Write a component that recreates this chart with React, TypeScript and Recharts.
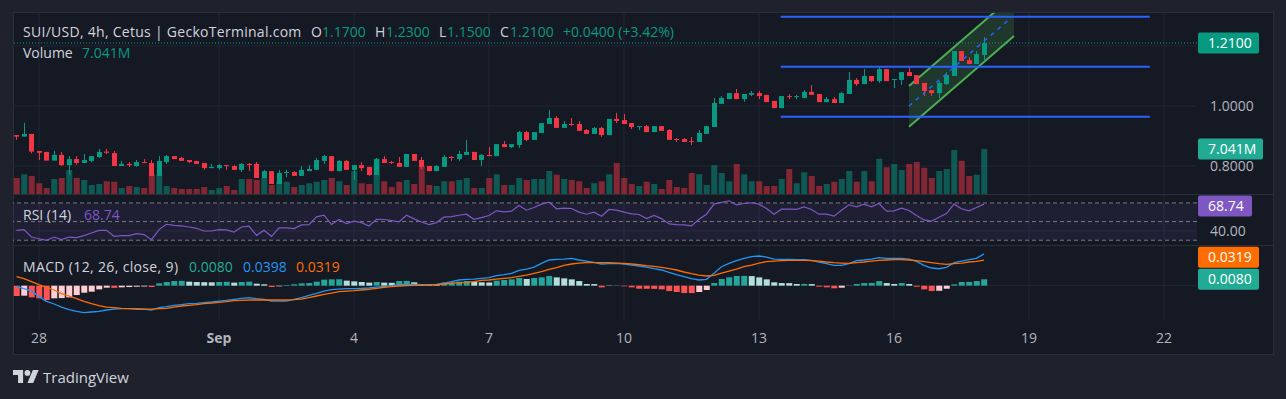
import React from "react";
import {
  Area,
  Bar,
  CartesianGrid,
  Cell,
  ComposedChart,
  Line,
  ReferenceArea,
  ReferenceLine,
  XAxis,
  YAxis,
} from "recharts";

// SUI/USD 4h — candle index 0 = Aug 28 00:00, 6 candles per day
const FIRST = -3;

const OPEN = [
  0.903, 0.898, 0.907, 0.85, 0.847, 0.818, 0.837, 0.803, 0.823, 0.81,
  0.817, 0.83, 0.848, 0.843, 0.8, 0.807, 0.8, 0.813, 0.81, 0.767,
  0.813, 0.833, 0.827, 0.82, 0.817, 0.81, 0.793, 0.793, 0.803, 0.8,
  0.787, 0.807, 0.807, 0.76, 0.783, 0.74, 0.777, 0.78, 0.767, 0.783,
  0.787, 0.817, 0.833, 0.783, 0.817, 0.787, 0.803, 0.797, 0.77, 0.823,
  0.813, 0.81, 0.797, 0.84, 0.82, 0.8, 0.783, 0.797, 0.83, 0.823,
  0.837, 0.847, 0.82, 0.837, 0.833, 0.873, 0.863, 0.87, 0.913, 0.887,
  0.91, 0.94, 0.96, 0.927, 0.94, 0.94, 0.92, 0.907, 0.927, 0.903,
  0.957, 0.953, 0.943, 0.93, 0.933, 0.913, 0.933, 0.92, 0.89, 0.89,
  0.883, 0.88, 0.907, 0.93, 1.007, 1.023, 1.043, 1.023, 1.037, 1.043,
  1.037, 1.017, 0.993, 1.033, 1.03, 1.027, 1.047, 1.04, 1.013, 1.023,
  1.01, 1.04, 1.087, 1.073, 1.1, 1.083, 1.123, 1.087, 1.087, 1.113,
  1.103, 1.077, 1.053, 1.043, 1.073, 1.1, 1.183, 1.153, 1.14, 1.17,
];
const HIGH = [
  0.903, 0.944, 0.907, 0.85, 0.847, 0.85, 0.847, 0.833, 0.833, 0.84,
  0.833, 0.857, 0.857, 0.85, 0.817, 0.813, 0.82, 0.823, 0.82, 0.833,
  0.837, 0.833, 0.83, 0.82, 0.817, 0.81, 0.807, 0.807, 0.803, 0.803,
  0.81, 0.81, 0.813, 0.787, 0.783, 0.787, 0.787, 0.783, 0.8, 0.803,
  0.827, 0.837, 0.833, 0.82, 0.82, 0.803, 0.813, 0.797, 0.827, 0.833,
  0.817, 0.83, 0.84, 0.84, 0.83, 0.8, 0.803, 0.837, 0.833, 0.85,
  0.887, 0.847, 0.84, 0.863, 0.873, 0.883, 0.873, 0.917, 0.917, 0.913,
  0.943, 0.987, 0.967, 0.95, 0.96, 0.95, 0.923, 0.93, 0.93, 0.957,
  0.977, 0.973, 0.943, 0.933, 0.937, 0.933, 0.933, 0.923, 0.893, 0.893,
  0.897, 0.92, 0.933, 1.027, 1.033, 1.043, 1.057, 1.04, 1.05, 1.05,
  1.037, 1.017, 1.033, 1.04, 1.037, 1.053, 1.07, 1.04, 1.03, 1.03,
  1.047, 1.113, 1.093, 1.123, 1.1, 1.133, 1.123, 1.09, 1.113, 1.133,
  1.103, 1.077, 1.053, 1.083, 1.113, 1.183, 1.183, 1.163, 1.183, 1.23,
];
const LOW = [
  0.887, 0.898, 0.842, 0.82, 0.818, 0.818, 0.8, 0.771, 0.804, 0.81,
  0.813, 0.827, 0.84, 0.8, 0.8, 0.797, 0.797, 0.81, 0.767, 0.767,
  0.807, 0.823, 0.817, 0.81, 0.807, 0.787, 0.793, 0.787, 0.787, 0.787,
  0.78, 0.783, 0.76, 0.76, 0.74, 0.74, 0.763, 0.767, 0.767, 0.783,
  0.787, 0.807, 0.783, 0.783, 0.787, 0.753, 0.783, 0.767, 0.77, 0.81,
  0.807, 0.797, 0.797, 0.817, 0.79, 0.783, 0.783, 0.797, 0.817, 0.817,
  0.837, 0.82, 0.8, 0.833, 0.833, 0.863, 0.86, 0.86, 0.883, 0.887,
  0.91, 0.94, 0.927, 0.927, 0.933, 0.917, 0.907, 0.907, 0.897, 0.903,
  0.943, 0.94, 0.923, 0.92, 0.913, 0.913, 0.917, 0.887, 0.88, 0.88,
  0.87, 0.88, 0.907, 0.93, 1.007, 1.023, 1.023, 1.014, 1.033, 1.023,
  1.013, 0.993, 0.993, 1.023, 1.023, 1.027, 1.037, 1.013, 1.013, 1.01,
  1.01, 1.04, 1.067, 1.073, 1.08, 1.077, 1.083, 1.06, 1.07, 1.1,
  1.073, 1.033, 1.033, 1.027, 1.07, 1.1, 1.15, 1.14, 1.14, 1.15,
];
const CLOSE = [
  0.898, 0.907, 0.848, 0.844, 0.818, 0.837, 0.803, 0.823, 0.81, 0.82,
  0.833, 0.847, 0.844, 0.8, 0.807, 0.803, 0.813, 0.81, 0.767, 0.817,
  0.833, 0.823, 0.817, 0.813, 0.807, 0.793, 0.797, 0.803, 0.8, 0.787,
  0.807, 0.803, 0.76, 0.783, 0.74, 0.777, 0.78, 0.767, 0.787, 0.79,
  0.82, 0.833, 0.783, 0.817, 0.787, 0.803, 0.793, 0.77, 0.823, 0.81,
  0.81, 0.797, 0.84, 0.817, 0.797, 0.783, 0.8, 0.83, 0.827, 0.84,
  0.847, 0.82, 0.837, 0.833, 0.873, 0.863, 0.873, 0.913, 0.887, 0.913,
  0.943, 0.96, 0.927, 0.94, 0.937, 0.917, 0.907, 0.927, 0.903, 0.957,
  0.95, 0.94, 0.93, 0.933, 0.913, 0.933, 0.917, 0.887, 0.887, 0.88,
  0.88, 0.91, 0.933, 1.01, 1.027, 1.043, 1.023, 1.04, 1.043, 1.033,
  1.013, 0.993, 1.033, 1.03, 1.033, 1.047, 1.037, 1.013, 1.023, 1.01,
  1.043, 1.087, 1.073, 1.1, 1.083, 1.123, 1.083, 1.09, 1.113, 1.1,
  1.073, 1.05, 1.043, 1.077, 1.103, 1.183, 1.15, 1.14, 1.173, 1.21,
];
// volume in millions
const VOLUME = [
  2.5, 3.1, 2.8, 1.7, 0.94, 2.35, 2.5, 3.76, 2.5, 2.2,
  1.4, 1.56, 2.0, 1.9, 0.94, 1.25, 1.1, 0.94, 3.1, 3.1,
  1.25, 0.94, 0.78, 0.78, 0.78, 1.1, 0.63, 0.94, 1.25, 0.63,
  2.35, 2.35, 2.2, 2.5, 1.4, 1.9, 1.9, 1.1, 1.4, 1.7,
  1.9, 2.2, 2.5, 2.0, 1.4, 3.6, 1.7, 1.56, 5.5, 2.0,
  1.1, 1.9, 2.2, 1.56, 4.4, 1.4, 1.25, 2.0, 2.0, 2.2,
  2.5, 0.94, 0.94, 2.5, 3.1, 1.4, 1.4, 2.5, 2.2, 2.35,
  2.35, 3.6, 3.0, 2.35, 2.2, 2.0, 0.94, 1.7, 2.0, 3.1,
  4.85, 2.5, 1.56, 1.25, 1.9, 1.56, 0.78, 2.2, 1.1, 0.94,
  3.3, 3.1, 1.4, 4.5, 3.3, 2.0, 4.7, 3.1, 2.0, 2.0,
  1.25, 1.25, 2.35, 3.9, 1.7, 3.4, 2.8, 1.25, 1.56, 1.9,
  2.35, 3.6, 1.9, 3.6, 2.0, 5.5, 4.2, 4.7, 3.75, 4.7,
  5.0, 4.1, 2.5, 3.6, 3.9, 6.9, 5.2, 2.8, 3.0, 7.041,
];
const RSI = [
  40.6, 41.4, 33.4, 31.6, 29.8, 33.4, 30.6, 33.4, 32.7, 34.9,
  37.8, 40.6, 40.6, 34.2, 34.9, 34.9, 37.0, 36.0, 30.6, 41.4,
  47.1, 46.0, 45.3, 44.2, 42.8, 39.9, 39.9, 41.4, 41.0, 38.8,
  44.2, 45.0, 35.2, 40.6, 34.2, 43.2, 43.2, 42.4, 46.4, 46.8,
  55.0, 56.8, 46.8, 52.2, 47.8, 50.4, 48.9, 45.3, 52.5, 52.2,
  51.1, 49.6, 56.8, 52.9, 49.6, 46.8, 48.9, 54.7, 55.4, 56.8,
  57.9, 52.5, 54.3, 56.5, 61.5, 60.4, 61.2, 67.3, 62.2, 65.1,
  68.7, 70.9, 63.7, 64.4, 64.0, 60.1, 57.9, 60.1, 55.8, 63.0,
  62.2, 60.1, 58.3, 57.6, 53.2, 56.5, 53.2, 47.5, 46.8, 46.4,
  45.3, 52.5, 57.9, 68.7, 70.5, 72.3, 68.0, 69.4, 70.2, 68.7,
  64.0, 57.9, 63.3, 63.3, 63.0, 65.8, 63.0, 57.9, 57.9, 55.8,
  62.2, 68.0, 65.8, 68.7, 65.8, 69.4, 61.2, 61.5, 64.4, 61.9,
  56.5, 51.8, 50.4, 54.7, 58.6, 68.7, 63.7, 61.5, 65.1, 68.74,
];
const MACD = [
  -0.0012, -0.0037, -0.0067, -0.0137, -0.0196, -0.0229, -0.0267, -0.03, -0.0321, -0.0337,
  -0.0329, -0.0321, -0.0304, -0.0292, -0.0287, -0.0287, -0.0296, -0.0292, -0.0305, -0.0275,
  -0.0262, -0.0246, -0.0237, -0.0225, -0.0221, -0.0212, -0.0204, -0.0192, -0.0183, -0.0171,
  -0.0158, -0.015, -0.0162, -0.0171, -0.0192, -0.0192, -0.0192, -0.0171, -0.015, -0.0121,
  -0.0096, -0.0067, -0.005, -0.0042, -0.0037, -0.0037, -0.0033, -0.0029, -0.0017, -0.0008,
  0.0, 0.0012, 0.0017, 0.0017, 0.0012, 0.0012, 0.0017, 0.0033, 0.005, 0.0071,
  0.0079, 0.0083, 0.0092, 0.01, 0.0125, 0.0137, 0.0154, 0.0192, 0.0208, 0.0233,
  0.0279, 0.0321, 0.0329, 0.0333, 0.0342, 0.0321, 0.0308, 0.0292, 0.0271, 0.0275,
  0.0279, 0.0271, 0.0258, 0.0246, 0.0233, 0.0212, 0.0196, 0.0167, 0.0137, 0.0112,
  0.0087, 0.0071, 0.0079, 0.0154, 0.0237, 0.0279, 0.0312, 0.0342, 0.0362, 0.0371,
  0.0358, 0.0333, 0.0329, 0.0329, 0.0325, 0.0325, 0.0317, 0.0296, 0.0275, 0.0254,
  0.0254, 0.0275, 0.0312, 0.0321, 0.0333, 0.035, 0.0342, 0.0342, 0.0342, 0.0333,
  0.0304, 0.0254, 0.0221, 0.0212, 0.0229, 0.0287, 0.0308, 0.0325, 0.0342, 0.0398,
];
const SIGNAL = [
  0.0112, 0.0087, 0.005, 0.0013, -0.0021, -0.0054, -0.01, -0.0129, -0.0162, -0.0196,
  -0.0225, -0.025, -0.0267, -0.0275, -0.0283, -0.0287, -0.0287, -0.0292, -0.0292, -0.0287,
  -0.0283, -0.0267, -0.0254, -0.0246, -0.0237, -0.0225, -0.0217, -0.0208, -0.02, -0.0187,
  -0.0183, -0.0179, -0.0179, -0.0179, -0.0179, -0.0179, -0.0179, -0.0175, -0.0167, -0.015,
  -0.0129, -0.0108, -0.0092, -0.0075, -0.0067, -0.0062, -0.0054, -0.0046, -0.0033, -0.0021,
  -0.0013, -0.0004, 0.0, 0.0004, 0.0008, 0.0008, 0.0012, 0.0021, 0.0029, 0.0037,
  0.0042, 0.005, 0.0067, 0.0071, 0.0083, 0.0092, 0.01, 0.0117, 0.0133, 0.0154,
  0.0175, 0.0204, 0.0225, 0.0254, 0.0271, 0.0283, 0.0287, 0.0287, 0.0287, 0.0287,
  0.0283, 0.0279, 0.0271, 0.0262, 0.025, 0.0242, 0.0229, 0.0212, 0.0196, 0.0171,
  0.015, 0.0133, 0.0121, 0.0129, 0.0158, 0.0183, 0.0208, 0.0237, 0.0258, 0.0283,
  0.03, 0.0308, 0.0312, 0.0317, 0.0317, 0.0317, 0.0312, 0.0308, 0.0296, 0.0287,
  0.0283, 0.0279, 0.0287, 0.0296, 0.0308, 0.0317, 0.0321, 0.0325, 0.0325, 0.0321,
  0.0312, 0.03, 0.0287, 0.0275, 0.0267, 0.0275, 0.0283, 0.0296, 0.0304, 0.0319,
];
const HIST = [
  -0.0129, -0.0125, -0.0146, -0.0158, -0.0179, -0.0158, -0.0155, -0.0146, -0.0117, -0.0088,
  -0.0075, -0.0046, -0.0025, -0.0027, -0.0021, -0.0017, -0.0013, -0.001, -0.0017, 0.0029,
  0.0046, 0.0058, 0.006, 0.005, 0.0046, 0.0044, 0.0042, 0.0046, 0.0048, 0.0038,
  0.0046, 0.005, 0.0025, 0.0017, -0.0017, -0.0008, 0.0008, 0.0017, 0.0029, 0.0033,
  0.005, 0.0075, 0.0079, 0.008, 0.0063, 0.0054, 0.0046, 0.0038, 0.0046, 0.0038,
  0.0036, 0.0058, 0.006, 0.0042, 0.0021, 0.0017, 0.0016, 0.0038, 0.0042, 0.005,
  0.0058, 0.005, 0.0042, 0.004, 0.0063, 0.0071, 0.0079, 0.0096, 0.0083, 0.0096,
  0.0104, 0.0121, 0.0104, 0.0092, 0.0079, 0.0058, 0.0021, 0.002, -0.0021, -0.0004,
  0.0004, -0.0008, -0.0021, -0.0038, -0.0039, -0.004, -0.0046, -0.0067, -0.0079, -0.0092,
  -0.0093, -0.0079, -0.0054, 0.0033, 0.0083, 0.0104, 0.0121, 0.0122, 0.012, 0.0104,
  0.0079, 0.0042, 0.0033, 0.0032, 0.0021, 0.0022, 0.002, -0.0013, -0.0021, -0.0033,
  -0.0025, -0.0002, 0.0021, 0.0033, 0.0034, 0.0058, 0.0033, 0.0021, 0.0033, 0.0021,
  -0.0013, -0.0046, -0.0066, -0.0064, -0.0038, 0.0017, 0.0046, 0.0047, 0.0058, 0.008,
];

// time axis: candle index of each day label
const DAY_TICKS = [0, 24, 42, 60, 78, 96, 114, 132, 150];
const DAY_LABELS = ["28", "Sep", "4", "7", "10", "13", "16", "19", "22"];

// drawings
const LEVELS = [1.2977, 1.131, 0.9643];
const LEVEL_FROM = 98.9;
const LEVEL_TO = 148.1;
const CHANNEL = [
  { i: 116, low: 0.931, high: 1.0667 },
  { i: 130, low: 1.2333, high: 1.369 },
];
const CHANNEL_MID = [
  { i: 116, p: 1.0 },
  { i: 129.2, p: 1.285 },
];

const PRICE_TICKS = [0.8, 1.0];
const PRICE_GRID = [0.8, 1.0, 1.2];
const RSI_LEVELS = [70, 50, 30];

const X_DOMAIN = [-3.4667, 154.4];
const PRICE_DOMAIN = [0.70667, 1.31];
const VOL_MAX = 28.32;
const RSI_DOMAIN = [23.8, 78.5];
const MACD_DOMAIN = [-0.0429, 0.0496];

const UP = "#089981";
const DOWN = "#f23645";
const GRID = "#232733";
const TEXT = "#d1d4dc";
const AXIS_TEXT = "#b2b5be";
const BG_OUT = "#1f222d";
const BG_IN = "#151924";
const BORDER = "#2a2e39";
const FONT = "'Open Sans', Roboto, sans-serif";

const ROWS = OPEN.map((o, k) => ({
  i: FIRST + k,
  o,
  h: HIGH[k],
  l: LOW[k],
  c: CLOSE[k],
  v: VOLUME[k],
  rsi: RSI[k],
  macd: MACD[k],
  signal: SIGNAL[k],
  hist: HIST[k],
}));
const LAST = ROWS[ROWS.length - 1];

function Candle(props: any) {
  const { x, y, width, height, payload } = props;
  if (!payload || height == null) return null;
  const { o, h, l, c } = payload;
  const color = c >= o ? UP : DOWN;
  const py = (p: number) => y + ((h - p) / (h - l)) * height;
  const cx = Math.round(x + width / 2) + 0.5;
  const top = py(Math.max(o, c));
  const bot = py(Math.min(o, c));
  return (
    <g>
      <line x1={cx} x2={cx} y1={y} y2={y + height} stroke={color} strokeWidth={1} />
      <rect x={cx - 2.5} y={top} width={5} height={Math.max(1, bot - top)} fill={color} />
    </g>
  );
}

function histColor(k: number) {
  const h = HIST[k];
  const prev = k > 0 ? HIST[k - 1] : h + 1;
  if (h >= 0) return h >= prev ? "#26a69a" : "#b2dfdb";
  return h < prev ? "#ff5252" : "#ffcdd2";
}

// price-scale label box
const axisBox = (text: string, bg: string, w: number, dy = 0) => (props: any) => {
  const vb = props.viewBox;
  if (!vb) return null;
  const x = vb.x + vb.width + 1;
  const cy = vb.y + dy;
  return (
    <g>
      <rect x={x} y={cy - 10.5} width={w} height={21} rx={2} fill={bg} />
      <text x={x + 10} y={cy} dy="0.35em" fill="#ffffff" fontSize={14} fontFamily={FONT}>
        {text}
      </text>
    </g>
  );
};

const sideTick = (digits: number) => (props: any) => (
  <text x={props.x + 11} y={props.y} dy="0.35em" fill={AXIS_TEXT} fontSize={14} fontFamily={FONT} textAnchor="start">
    {Number(props.payload.value).toFixed(digits)}
  </text>
);

const timeTick = (props: any) => {
  const label = DAY_LABELS[DAY_TICKS.indexOf(props.payload.value)];
  return (
    <text
      x={props.x}
      y={92}
      dy="0.35em"
      textAnchor="middle"
      fill={AXIS_TEXT}
      fontSize={14}
      fontWeight={label === "Sep" ? 700 : 400}
      fontFamily={FONT}
    >
      {label}
    </text>
  );
};

function MainPane() {
  return (
    <ComposedChart width={1260} height={181} data={ROWS} margin={{ top: 0, right: 0, bottom: 0, left: 0 }}>
      <CartesianGrid stroke={GRID} xAxisId="x" yAxisId="p" verticalValues={DAY_TICKS} horizontalValues={PRICE_GRID} />
      <XAxis xAxisId="x" dataKey="i" type="number" domain={X_DOMAIN} allowDataOverflow hide />
      <XAxis xAxisId="xv" dataKey="i" type="number" domain={X_DOMAIN} allowDataOverflow hide />
      <YAxis
        yAxisId="p"
        orientation="right"
        width={76}
        domain={PRICE_DOMAIN}
        allowDataOverflow
        ticks={PRICE_TICKS}
        tick={sideTick(4)}
        axisLine={false}
        tickLine={false}
        tickSize={0}
      />
      <YAxis yAxisId="v" domain={[0, VOL_MAX]} hide />
      <Bar xAxisId="xv" yAxisId="v" dataKey="v" barSize={6} isAnimationActive={false}>
        {ROWS.map((r) => (
          <Cell key={r.i} fill={r.c >= r.o ? "rgba(8,153,129,0.5)" : "rgba(242,54,69,0.5)"} />
        ))}
      </Bar>
      {LEVELS.map((lv) => (
        <ReferenceLine
          key={lv}
          xAxisId="x"
          yAxisId="p"
          segment={[
            { x: LEVEL_FROM, y: lv },
            { x: LEVEL_TO, y: lv },
          ]}
          stroke="#2962ff"
          strokeWidth={2}
          ifOverflow="hidden"
        />
      ))}
      <Area
        data={CHANNEL}
        xAxisId="x"
        yAxisId="p"
        dataKey={(d: any) => [d.low, d.high]}
        type="linear"
        stroke="#4caf50"
        strokeWidth={2}
        fill="#4caf50"
        fillOpacity={0.2}
        dot={false}
        activeDot={false}
        isAnimationActive={false}
      />
      <Bar xAxisId="x" yAxisId="p" dataKey={(d: any) => [d.l, d.h]} barSize={5} shape={Candle} isAnimationActive={false} />
      <Line
        data={CHANNEL_MID}
        xAxisId="x"
        yAxisId="p"
        dataKey="p"
        type="linear"
        stroke="#2962ff"
        strokeWidth={1.5}
        strokeDasharray="4 5"
        dot={false}
        activeDot={false}
        isAnimationActive={false}
      />
      <ReferenceLine
        xAxisId="x"
        yAxisId="p"
        y={LAST.c}
        stroke={UP}
        strokeDasharray="1 2"
        label={axisBox(LAST.c.toFixed(4), UP, 61)}
      />
      <ReferenceLine
        xAxisId="xv"
        yAxisId="v"
        y={LAST.v}
        stroke="none"
        label={axisBox(`${LAST.v.toFixed(3)}M`, "#22ab94", 65)}
      />
    </ComposedChart>
  );
}

function RsiPane() {
  return (
    <ComposedChart width={1260} height={51} data={ROWS} margin={{ top: 0, right: 0, bottom: 0, left: 0 }}>
      <CartesianGrid stroke={GRID} xAxisId="x" yAxisId="r" verticalValues={DAY_TICKS} horizontalValues={[40]} />
      <XAxis xAxisId="x" dataKey="i" type="number" domain={X_DOMAIN} allowDataOverflow hide />
      <YAxis
        yAxisId="r"
        orientation="right"
        width={76}
        domain={RSI_DOMAIN}
        allowDataOverflow
        ticks={[40]}
        tick={sideTick(2)}
        axisLine={false}
        tickLine={false}
        tickSize={0}
      />
      <ReferenceArea xAxisId="x" yAxisId="r" y1={30} y2={70} fill="#7e57c2" fillOpacity={0.1} stroke="none" />
      {RSI_LEVELS.map((lv) => (
        <ReferenceLine key={lv} xAxisId="x" yAxisId="r" y={lv} stroke="#787b86" strokeDasharray="4 3" />
      ))}
      <Line xAxisId="x" yAxisId="r" dataKey="rsi" type="linear" stroke="#7e57c2" strokeWidth={1.2} dot={false} isAnimationActive={false} />
      <ReferenceLine xAxisId="x" yAxisId="r" y={LAST.rsi} stroke="none" label={axisBox(LAST.rsi.toFixed(2), "#7e57c2", 54, 2)} />
    </ComposedChart>
  );
}

function MacdPane() {
  return (
    <ComposedChart width={1260} height={108} data={ROWS} margin={{ top: 0, right: 76, bottom: 0, left: 0 }}>
      <CartesianGrid stroke={GRID} xAxisId="x" yAxisId="m" verticalValues={DAY_TICKS} horizontalValues={[0]} />
      <XAxis
        xAxisId="x"
        dataKey="i"
        type="number"
        domain={X_DOMAIN}
        allowDataOverflow
        ticks={DAY_TICKS}
        interval={0}
        height={34}
        axisLine={false}
        tickLine={false}
        tick={timeTick}
      />
      <YAxis yAxisId="m" domain={MACD_DOMAIN} allowDataOverflow hide />
      <Bar xAxisId="x" yAxisId="m" dataKey="hist" barSize={6} isAnimationActive={false}>
        {ROWS.map((r, k) => (
          <Cell key={r.i} fill={histColor(k)} />
        ))}
      </Bar>
      <Line xAxisId="x" yAxisId="m" dataKey="macd" type="linear" stroke="#2196f3" strokeWidth={1.3} dot={false} isAnimationActive={false} />
      <Line xAxisId="x" yAxisId="m" dataKey="signal" type="linear" stroke="#ff6d00" strokeWidth={1.3} dot={false} isAnimationActive={false} />
      <ReferenceLine xAxisId="x" yAxisId="m" y={LAST.hist} stroke="none" label={axisBox(LAST.hist.toFixed(4), "#22ab94", 61)} />
      <ReferenceLine xAxisId="x" yAxisId="m" y={LAST.signal} stroke="none" label={axisBox(LAST.signal.toFixed(4), "#ff6d00", 61, -3)} />
    </ComposedChart>
  );
}

const txt = (left: number, top: number, color: string, s: string, extra: any = {}) => (
  <div
    style={{
      position: "absolute",
      left,
      top,
      color,
      fontSize: 14,
      lineHeight: "16px",
      whiteSpace: "nowrap",
      fontFamily: FONT,
      ...extra,
    }}
  >
    {s}
  </div>
);

export default function App() {
  const change = LAST.c - LAST.o;
  const pct = (change / LAST.o) * 100;
  return (
    <div
      style={{
        position: "absolute",
        left: 0,
        top: 0,
        width: 1286,
        height: 399,
        background: BG_OUT,
        overflow: "hidden",
        fontFamily: FONT,
      }}
    >
      <div
        style={{
          position: "absolute",
          left: 13,
          top: 12,
          width: 1261,
          height: 343,
          background: BG_IN,
          border: `1px solid ${BORDER}`,
          boxSizing: "border-box",
        }}
      />
      <div style={{ position: "absolute", left: 13, top: 13 }}>
        <MainPane />
      </div>
      <div style={{ position: "absolute", left: 13, top: 194, width: 1260, height: 1, background: BORDER }} />
      <div style={{ position: "absolute", left: 13, top: 195 }}>
        <RsiPane />
      </div>
      <div style={{ position: "absolute", left: 13, top: 245, width: 1260, height: 1, background: BORDER }} />
      <div style={{ position: "absolute", left: 13, top: 246 }}>
        <MacdPane />
      </div>

      {txt(23, 24, TEXT, "SUI/USD, 4h, Cetus | GeckoTerminal.com", { letterSpacing: "0.28px" })}
      {txt(311, 24, TEXT, "O")}
      {txt(322, 24, UP, LAST.o.toFixed(4))}
      {txt(375, 24, TEXT, "H")}
      {txt(386, 24, UP, LAST.h.toFixed(4))}
      {txt(439, 24, TEXT, "L")}
      {txt(447, 24, UP, LAST.l.toFixed(4))}
      {txt(500, 24, TEXT, "C")}
      {txt(510, 24, UP, LAST.c.toFixed(4))}
      {txt(563, 24, UP, `+${change.toFixed(4)} (+${pct.toFixed(2)}%)`)}
      {txt(23, 45, TEXT, "Volume")}
      {txt(82, 45, UP, `${LAST.v.toFixed(3)}M`)}
      {txt(23, 207, TEXT, "RSI (14)")}
      {txt(84, 207, "#7e57c2", LAST.rsi.toFixed(2))}
      {txt(23, 259, TEXT, "MACD (12, 26, close, 9)", { letterSpacing: "0.35px" })}
      {txt(189, 259, "#22ab94", LAST.hist.toFixed(4))}
      {txt(243, 259, "#2196f3", LAST.macd.toFixed(4))}
      {txt(296, 259, "#ff6d00", LAST.signal.toFixed(4))}

      <svg style={{ position: "absolute", left: 13, top: 370 }} width={26} height={13} viewBox="0 4 36 18">
        <path d="M14 22H7V11H0V4h14v18z" fill={TEXT} />
        <circle cx={20} cy={8} r={4} fill={TEXT} />
        <path d="M28 22h-8l7.5-18h8L28 22z" fill={TEXT} />
      </svg>
      {txt(43, 368, TEXT, "TradingView", { fontSize: 15, lineHeight: "18px", fontWeight: 500 })}
    </div>
  );
}
